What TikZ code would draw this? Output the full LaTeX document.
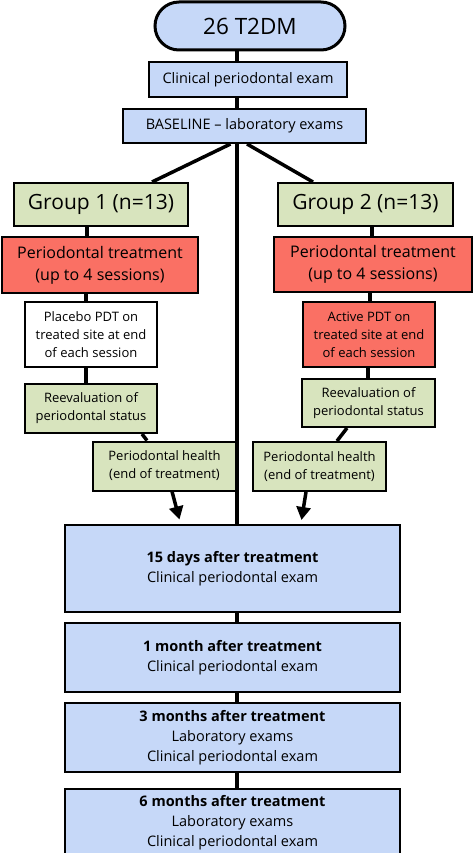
\documentclass[tikz,border=0pt]{standalone}
\usepackage{fontspec}
\setmainfont{Open Sans}
\usetikzlibrary{arrows.meta,positioning}
\definecolor{bluebox}{RGB}{198,216,248}
\definecolor{greenbox}{RGB}{216,228,190}
\definecolor{redbox}{RGB}{250,112,100}

\begin{document}
\begin{tikzpicture}[x=1pt,y=-1pt]
\tikzstyle{every node}=[draw=black, line width=2pt, inner sep=0pt, align=center]
\tikzstyle{every path}=[line width=3.5pt]
\tikzset{blue/.style={fill=bluebox}, green/.style={fill=greenbox}, red/.style={fill=redbox}}
\tikzset{small/.style={font=\fontsize{13}{18}\selectfont}, mid/.style={font=\fontsize{16}{22}\selectfont}}
\tikzset{exam/.style={blue, font=\fontsize{14.5}{20}\selectfont}}
\tikzset{later/.style={exam, minimum width=335pt}}
\useasboundingbox (0,0) rectangle (473,853);
\coordinate (spine) at (237,0);
\node [blue, line width=3pt, rounded corners=24pt, minimum width=190pt, minimum height=48pt, font=\fontsize{22.5}{28}\selectfont] (T2DM) at (250,26) {26 T2DM};
\node [exam, minimum width=198pt, minimum height=35pt] (CLIN) at (248,79.5) {Clinical periodontal exam};
\node [exam, minimum width=243pt, minimum height=34pt] (BASE) at (244.5,126) {BASELINE -- laboratory exams};
\node [green, minimum width=174pt, minimum height=43pt, font=\fontsize{21}{24}\selectfont] (G1) at (101,204.5) {Group 1 (n=13)};
\node [green, minimum width=175pt, minimum height=43pt, font=\fontsize{21}{24}\selectfont] (G2) at (365.5,204.5) {Group 2 (n=13)};
\node [red, mid, minimum width=196pt, minimum height=56pt] (TREAT1) at (100,265) {Periodontal treatment\\(up to 4 sessions)};
\node [red, mid, minimum width=198pt, minimum height=55pt] (TREAT2) at (373,264.5) {Periodontal treatment\\(up to 4 sessions)};
\node [fill=white, small, minimum width=132pt, minimum height=65pt] (PDT1) at (91,334.5) {Placebo PDT on\\treated site at end\\of each session};
\node [red, small, minimum width=132pt, minimum height=65pt] (PDT2) at (369,334.5) {Active PDT on\\treated site at end\\of each session};
\node [green, small, minimum width=132pt, minimum height=49pt] (REEV1) at (91,408.5) {Reevaluation of\\periodontal status};
\node [green, small, minimum width=133pt, minimum height=48pt] (REEV2) at (368.5,403) {Reevaluation of\\periodontal status};
\node [green, small, minimum width=143pt, minimum height=49pt] (HEALTH1) at (164.5,466) {Periodontal health\\(end of treatment)};
\node [green, small, minimum width=133pt, minimum height=49pt] (HEALTH2) at (319.5,466.5) {Periodontal health\\(end of treatment)};
\node [later, minimum height=87pt] (DAY15) at (232.5,568.5) {\textbf{15 days after treatment}\\Clinical periodontal exam};
\node [later, minimum height=69pt, below=9pt of DAY15] (MONTH1) {\textbf{1 month after treatment}\\Clinical periodontal exam};
\node [later, minimum height=69pt, below=9pt of MONTH1] (MONTH3) {\textbf{3 months after treatment}\\Laboratory exams\\Clinical periodontal exam};
\node [later, minimum height=68pt, below=15pt of MONTH3] (MONTH6) {\textbf{6 months after treatment}\\Laboratory exams\\Clinical periodontal exam};
\coordinate (END1) at ([xshift=15pt,yshift=-28pt]HEALTH1.south);
\coordinate (END2) at ([xshift=-18pt,yshift=-28pt]HEALTH2.south);
\draw (T2DM.south -| spine) -- (CLIN.north -| spine);
\draw (CLIN.south -| spine) -- (BASE.north -| spine);
\draw (BASE.south -| spine) -- (DAY15.north -| spine);
\draw ([xshift=-14pt]BASE.south) -- ([xshift=51pt]G1.north);
\draw ([xshift=2.5pt]BASE.south) -- ([xshift=-52.5pt]G2.north);
\draw ([xshift=-14pt]G1.south) -- ([xshift=-13pt]TREAT1.north);
\draw ([xshift=-14pt]TREAT1.south) -- ([xshift=-5pt]PDT1.north);
\draw ([xshift=-5pt]PDT1.south) -- ([xshift=-5pt]REEV1.north);
\draw ([xshift=51pt]REEV1.south) -- ([xshift=-17.5pt]HEALTH1.north);
\draw ([xshift=6.5pt]G2.south) -- ([xshift=-1pt]TREAT2.north);
\draw ([xshift=-3pt]TREAT2.south) -- ([xshift=1pt]PDT2.north);
\draw ([xshift=-1pt]PDT2.south) -- ([xshift=-0.5pt]REEV2.north);
\draw ([xshift=-21.5pt]REEV2.south) -- ([xshift=17.5pt]HEALTH2.north);
\draw [-{Triangle[width=14pt,length=13pt]}] ([xshift=7.5pt]HEALTH1.south) -- (END1);
\draw [-{Triangle[width=14pt,length=13pt]}] ([xshift=-13.5pt]HEALTH2.south) -- (END2);
\draw (DAY15.south -| spine) -- (MONTH1.north -| spine);
\draw (MONTH1.south -| spine) -- (MONTH3.north -| spine);
\draw (MONTH3.south -| spine) -- (MONTH6.north -| spine);
\end{tikzpicture}
\end{document}
